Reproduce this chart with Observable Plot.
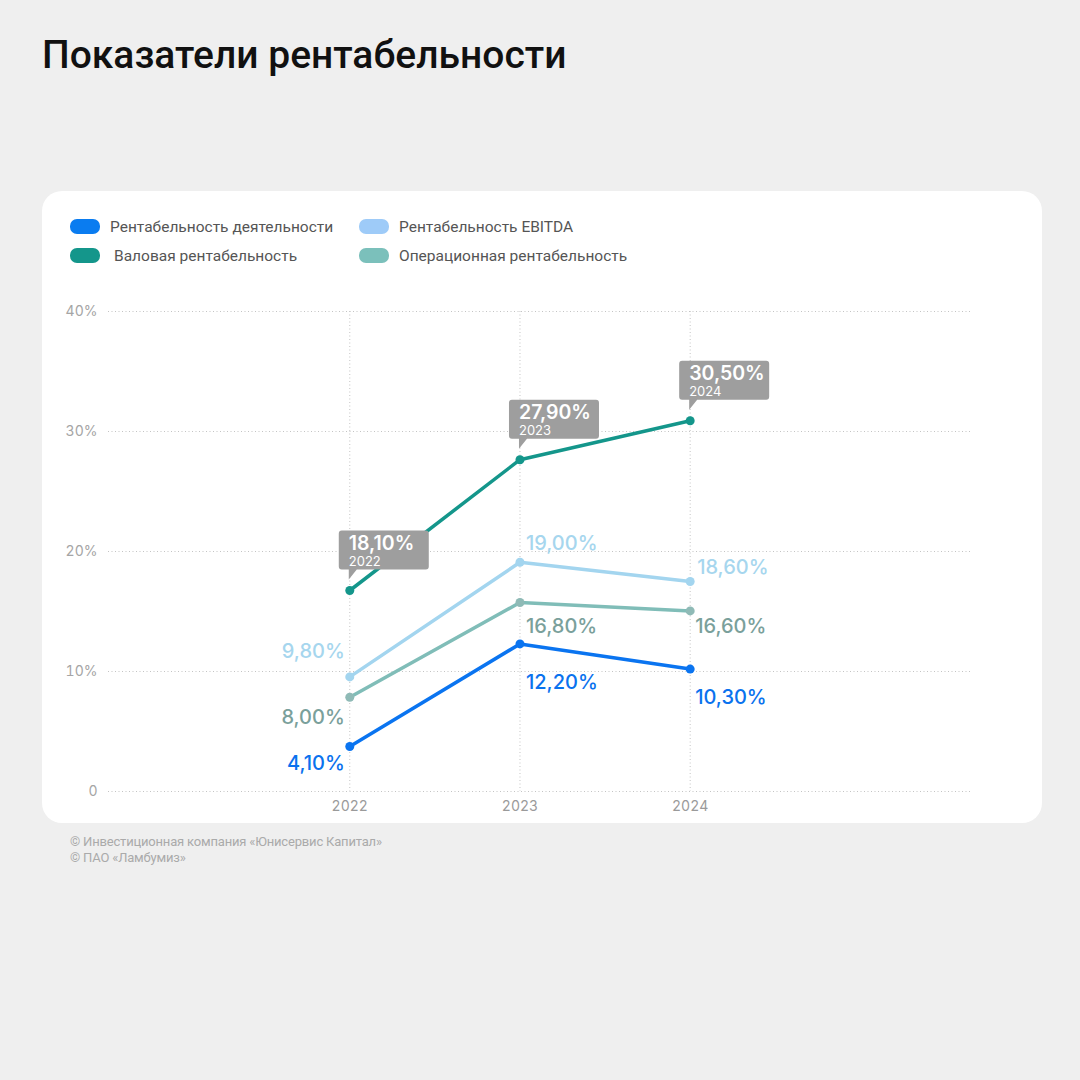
<!DOCTYPE html>
<html>
<head>
<meta charset="utf-8">
<script src="https://cdn.jsdelivr.net/npm/d3@7"></script>
<script src="https://cdn.jsdelivr.net/npm/@observablehq/plot@0.6"></script>
<style>
  html, body { margin: 0; padding: 0; }
  body { width: 1080px; height: 1080px; background: #efefef; position: relative; overflow: hidden; font-family: Roboto, "Noto Sans", sans-serif; }
  #title { position: absolute; left: 42px; top: 35px; font: 500 39px/40px Roboto, sans-serif; color: #111; letter-spacing: 0px; white-space: nowrap; }
  #card { position: absolute; left: 42px; top: 191px; width: 1000px; height: 632px; background: #fff; border-radius: 20px; }
  #legend { position: absolute; left: 28px; top: 27px; font: 400 15.5px Roboto, sans-serif; color: #555; }
  .li { position: absolute; white-space: nowrap; height: 18px; line-height: 18px; }
  .sw { position: absolute; left: 0; top: 1px; width: 30px; height: 15px; border-radius: 7px; }
  .lt { position: absolute; left: 40px; top: 0; }
  #chart { position: absolute; left: 0; top: 100px; }
  #footer { position: absolute; left: 70px; top: 834px; font: 400 13px Roboto, sans-serif; color: #aaa; line-height: 15.5px; letter-spacing: -0.18px; }
</style>
</head>
<body>
<div id="title">Показатели рентабельности</div>
<div id="card">
  <div id="legend"></div>
  <div id="chart"></div>
</div>
<div id="footer">© Инвестиционная компания «Юнисервис Капитал»<br>© ПАО «Ламбумиз»</div>
<script>
// ---- data ----
const years = [2022, 2023, 2024];
const seriesNames = ["Рентабельность деятельности", "Рентабельность EBITDA", "Валовая рентабельность", "Операционная рентабельность"];
// positions as drawn in the reference (percent)
const activityValues = [3.75, 12.3, 10.2];
const ebitdaValues = [9.55, 19.1, 17.5];
const grossValues = [16.75, 27.65, 30.9];
const operationalValues = [7.85, 15.75, 15.05];
// labels as printed in the reference
const activityLabels = ["4,10%", "12,20%", "10,30%"];
const ebitdaLabels = ["9,80%", "19,00%", "18,60%"];
const grossLabels = ["18,10%", "27,90%", "30,50%"];
const operationalLabels = ["8,00%", "16,80%", "16,60%"];
const yTicks = [0, 10, 20, 30, 40];
const yTickLabels = ["0", "10%", "20%", "30%", "40%"];

// ---- styles ----
const colors = {
  activity: "#0a74f0",
  ebitda: "#a3d5ef",
  gross: "#14968b",
  operational: "#80bdb8"
};
const labelColors = {
  activity: "#0a72ee",
  ebitda: "#a6d6ee",
  operational: "#7aa09b"
};
const legendColors = ["#0a7cf0", "#9ecbf8", "#14968b", "#7bc0bb"];
const legendPos = [[0, 0], [289, 0], [0, 29], [289, 29]];
const legendTextShift = [0, 0, 4, 0];

// legend
const legend = document.getElementById("legend");
seriesNames.forEach((name, i) => {
  const d = document.createElement("div");
  d.className = "li";
  d.style.left = legendPos[i][0] + "px";
  d.style.top = legendPos[i][1] + "px";
  d.innerHTML = `<span class="sw" style="background:${legendColors[i]}"></span><span class="lt" style="left:${40 + legendTextShift[i]}px">${name}</span>`;
  legend.appendChild(d);
});

const mk = (vals, labels) => years.map((y, i) => ({year: y, value: vals[i], label: labels[i], year_label: String(y)}));
const activity = mk(activityValues, activityLabels);
const ebitda = mk(ebitdaValues, ebitdaLabels);
const gross = mk(grossValues, grossLabels);
const operational = mk(operationalValues, operationalLabels);

// callout shape (pixel offsets relative to the point)
const callout = {
  draw(c) {
    const x0 = -11, x1 = 79, y0 = -60, y1 = -21, r = 3;
    c.moveTo(x0 + r, y0);
    c.lineTo(x1 - r, y0); c.arcTo(x1, y0, x1, y0 + r, r);
    c.lineTo(x1, y1 - r); c.arcTo(x1, y1, x1 - r, y1, r);
    c.lineTo(7, y1); c.lineTo(-1, -11); c.lineTo(-1, y1);
    c.lineTo(x0 + r, y1); c.arcTo(x0, y1, x0, y1 - r, r);
    c.lineTo(x0, y0 + r); c.arcTo(x0, y0, x0 + r, y0, r);
    c.closePath();
  }
};

// per-label offsets (layout)
const labelOffsets = {
  ebitda: [[-5, -25, "end"], [6, -19, "start"], [7, -14, "start"]],
  operational: [[-5, 20, "end"], [6, 24, "start"], [5, 16, "start"]],
  activity: [[-5, 17, "end"], [6, 39, "start"], [5, 28, "start"]]
};
const labelMarks = [];
for (const [key, data] of [["ebitda", ebitda], ["operational", operational], ["activity", activity]]) {
  data.forEach((d, i) => {
    const [dx, dy, anchor] = labelOffsets[key][i];
    labelMarks.push(Plot.text([d], {
      x: "year", y: "value", text: "label", dx, dy, textAnchor: anchor,
      lineAnchor: "middle", fill: labelColors[key], fontSize: 20, fontWeight: 500,
      fontFamily: "Inter, Roboto, sans-serif"
    }));
  });
}

const chart = Plot.plot({
  width: 1000,
  height: 532,
  marginLeft: 66,
  marginRight: 72,
  marginTop: 20,
  marginBottom: 32,
  style: {background: "transparent", fontFamily: "Inter, Roboto, sans-serif", overflow: "visible"},
  x: {type: "linear", domain: [2022 - 241 / 170, 2024 + 280 / 170]},
  y: {domain: [0, 40]},
  marks: [
    Plot.gridY(yTicks, {stroke: "#c4c4c4", strokeOpacity: 1, strokeDasharray: "1,2.5", strokeWidth: 1}),
    Plot.gridX(years, {stroke: "#c4c4c4", strokeOpacity: 1, strokeDasharray: "1,2.5", strokeWidth: 1}),
    Plot.axisY(yTicks, {tickSize: 0, tickPadding: 11, tickFormat: (d, i) => yTickLabels[i], fontSize: 14, fill: "#a5a5a5", label: null}),
    Plot.axisX(years, {tickSize: 0, tickPadding: 10, tickFormat: d => String(d), fontSize: 14, fill: "#9a9a9a", label: null}),
    Plot.line(ebitda, {x: "year", y: "value", stroke: colors.ebitda, strokeWidth: 3.5}),
    Plot.line(operational, {x: "year", y: "value", stroke: colors.operational, strokeWidth: 3.5}),
    Plot.line(activity, {x: "year", y: "value", stroke: colors.activity, strokeWidth: 3.5}),
    Plot.line(gross, {x: "year", y: "value", stroke: colors.gross, strokeWidth: 3.5}),
    Plot.dot(ebitda, {x: "year", y: "value", fill: colors.ebitda, r: 4.5}),
    Plot.dot(operational, {x: "year", y: "value", fill: "#8fbab6", r: 4.5}),
    Plot.dot(activity, {x: "year", y: "value", fill: colors.activity, r: 4.5}),
    Plot.dot(gross, {x: "year", y: "value", fill: colors.gross, r: 4.5}),
    Plot.dot(gross, {x: "year", y: "value", fill: "#9e9e9e", symbol: callout, r: 4.5}),
    Plot.text(gross, {x: "year", y: "value", text: "label", dx: -1, dy: -41, textAnchor: "start", lineAnchor: "bottom", fill: "#fff", fontSize: 19.5, fontWeight: 600, fontFamily: "Inter, Roboto, sans-serif"}),
    Plot.text(gross, {x: "year", y: "value", text: "year_label", dx: -1, dy: -25, textAnchor: "start", lineAnchor: "bottom", fill: "#fff", fontSize: 13, fontWeight: 400, fontFamily: "Inter, Roboto, sans-serif"}),
    ...labelMarks
  ]
});
document.getElementById("chart").appendChild(chart);
</script>
</body>
</html>
